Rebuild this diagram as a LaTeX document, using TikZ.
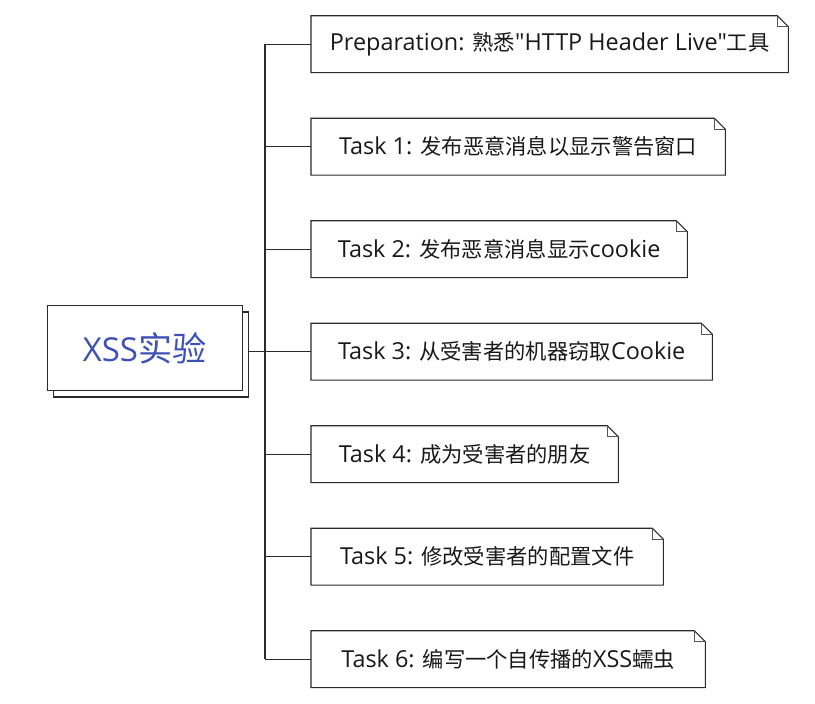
\documentclass[tikz,border=0pt]{standalone}
\usepackage{fontspec}
\setmainfont{Open Sans}[Ligatures=TeXOff]
\newfontfamily\cjk[Scale=0.91]{Noto Sans CJK SC}
\newcommand\zh[1]{{\cjk #1}}
\definecolor{hubblue}{HTML}{3F51B5}
\definecolor{lineclr}{HTML}{2B2B2B}
\tikzset{
  notebox/.style={anchor=north west, minimum height=56.5, inner sep=0pt, align=center,
    font=\fontsize{23.4}{27}\selectfont, text=black!90},
  hubbox/.style={draw=lineclr, line width=1.1pt, fill=white, minimum width=195, minimum height=85, inner sep=0pt},
  conn/.style={draw=lineclr, line width=1.1pt},
  outl/.style={draw=lineclr, line width=1.1pt, line join=miter},
  foldl/.style={draw=lineclr!80, line width=0.8pt}
}
\newcommand\noteoutline[1]{%
  \draw[outl] (#1.south west) -- (#1.north west) -- ([xshift=-11]#1.north east)
    -- ([yshift=-11]#1.north east) -- (#1.south east) -- cycle;
  \draw[foldl] ([xshift=-11]#1.north east) -- ([xshift=-11,yshift=-11]#1.north east)
    -- ([yshift=-11]#1.north east);
}
\begin{document}
\begin{tikzpicture}[x=1pt,y=-1pt]
\useasboundingbox (0,0) rectangle (815,704);
\fill[white] (0,0) rectangle (815,704);

\coordinate (tr) at (265,0);

% task notes
\node[notebox, minimum width=477] (t0) at (311,15.7)
  {Preparation: \zh{熟悉}"HTTP Header Live"\zh{工具}};
\node[notebox, minimum width=414] (t1) at (311,118.2)
  {Task 1: \zh{发布恶意消息以显示警告窗口}};
\node[notebox, minimum width=376] (t2) at (311,220.7)
  {Task 2: \zh{发布恶意消息显示}cookie};
\node[notebox, minimum width=401] (t3) at (311,323.2)
  {Task 3: \zh{从受害者的机器窃取}Cookie};
\node[notebox, minimum width=307] (t4) at (311,425.7)
  {Task 4: \zh{成为受害者的朋友}};
\node[notebox, minimum width=352] (t5) at (311,528.2)
  {Task 5: \zh{修改受害者的配置文件}};
\node[notebox, minimum width=394] (t6) at (311,630.7)
  {Task 6: \zh{编写一个自传播的}XSS\zh{蠕虫}};

\foreach \n in {t0,t1,t2,t3,t4,t5,t6}{\noteoutline{\n}}

% hub
\node[hubbox] (hubback) at (151.1,354.5) {};
\node[hubbox, text=hubblue] (hub) at (144.6,348.2)
  {{\fontsize{33}{40}\selectfont XSS}{\cjk\fontsize{37.5}{40}\selectfont 实验}};

% connectors
\draw[conn] (tr |- t0.west) -- (tr |- t6.west);
\draw[conn] (hubback.east |- t3.west) -- (tr |- t3.west);
\foreach \n in {t0,t1,t2,t3,t4,t5,t6}{\draw[conn] (tr |- \n.west) -- (\n.west);}
\end{tikzpicture}
\end{document}
